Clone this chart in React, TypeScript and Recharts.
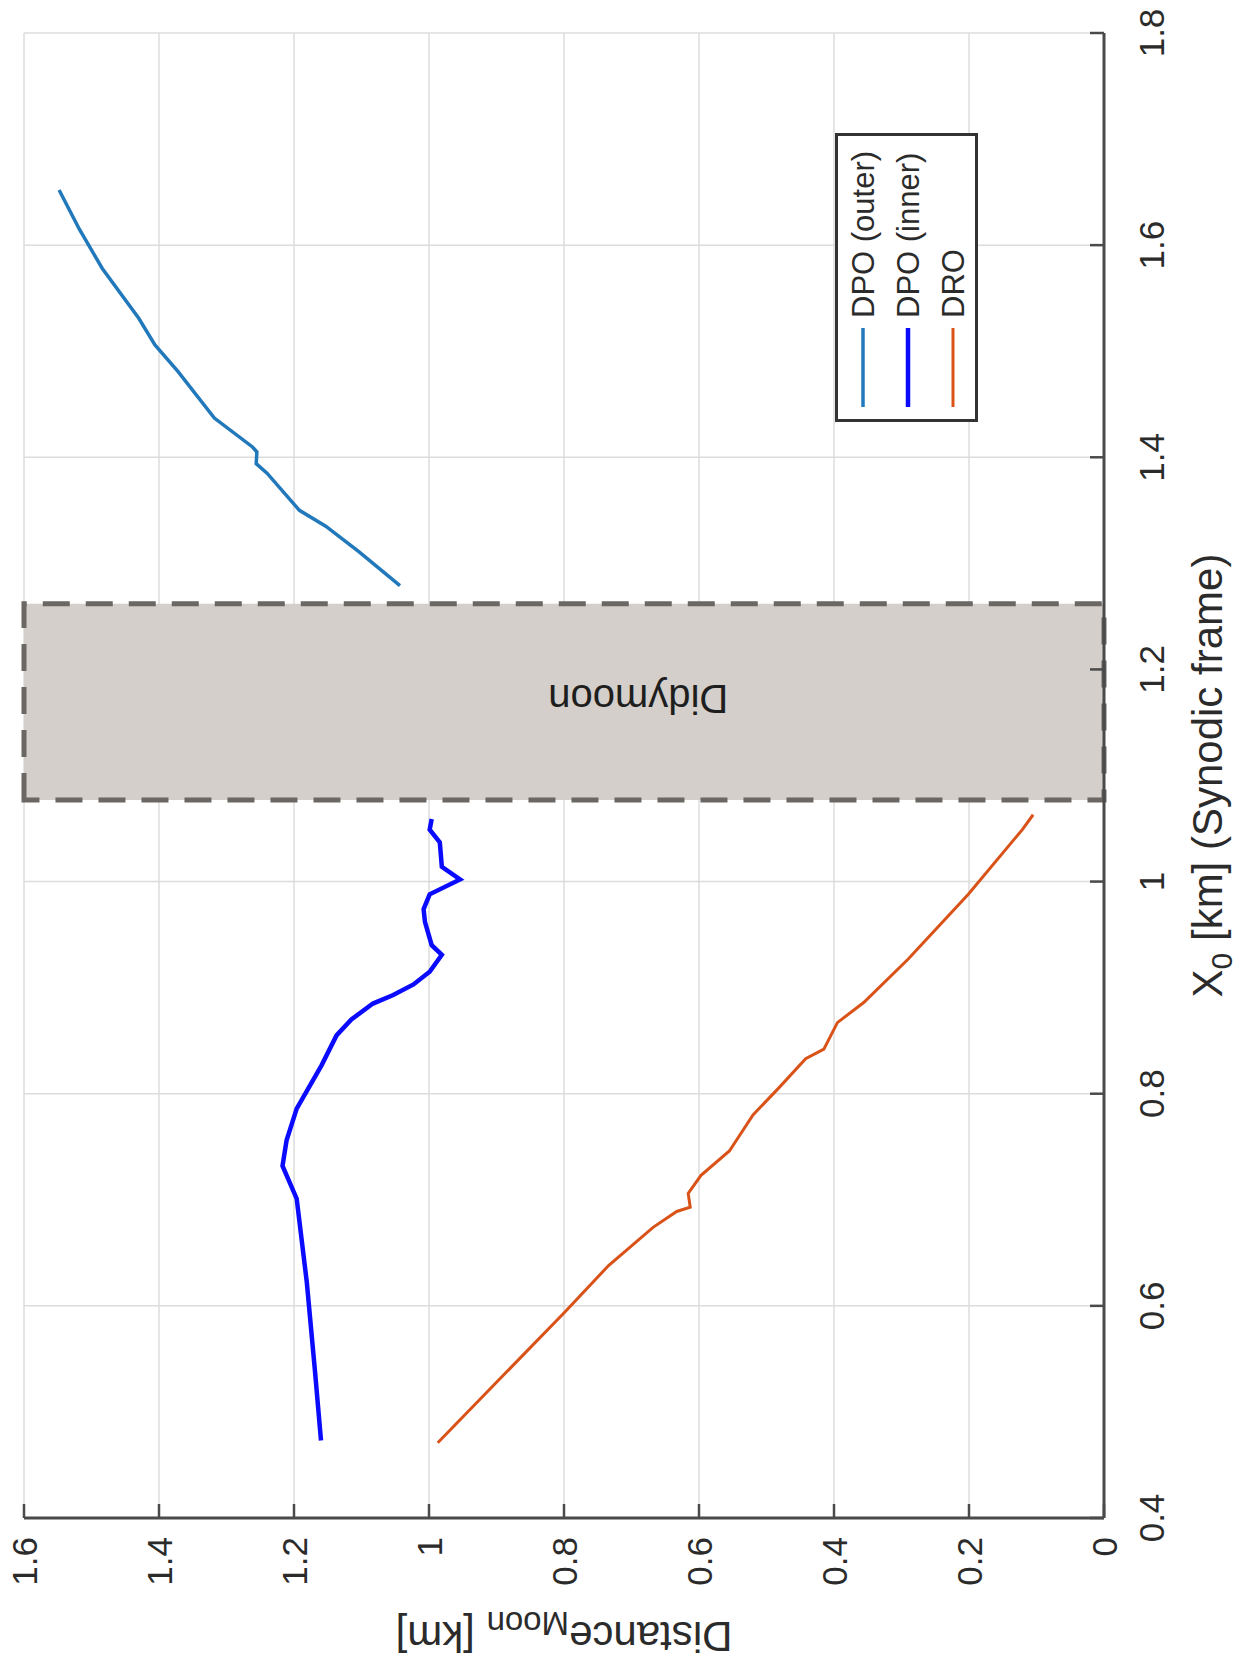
import React from 'react';
import { LineChart, Line, XAxis, YAxis, CartesianGrid, ReferenceArea, ReferenceDot, Legend } from 'recharts';

// the figure is drawn upright, then the whole thing is turned a quarter turn to the left
const xTicks = [0.4, 0.6, 0.8, 1, 1.2, 1.4, 1.6, 1.8];
const yTicks = [0, 0.2, 0.4, 0.6, 0.8, 1, 1.2, 1.4, 1.6];

const seriesNames = ['DPO (outer)', 'DPO (inner)', 'DRO'];

const dpoOuterX = [1.279, 1.311, 1.335, 1.350, 1.385, 1.394, 1.405, 1.410, 1.437, 1.481, 1.506, 1.531, 1.578, 1.615, 1.652];
const dpoOuterY = [1.043, 1.104, 1.153, 1.192, 1.240, 1.256, 1.255, 1.262, 1.318, 1.372, 1.406, 1.430, 1.484, 1.518, 1.548];

const dpoInnerX = [0.473, 0.539, 0.622, 0.701, 0.732, 0.756, 0.786, 0.827, 0.855, 0.870, 0.885, 0.893, 0.903, 0.915, 0.931, 0.940, 0.962, 0.974, 0.988, 1.002, 1.014, 1.037, 1.049, 1.059];
const dpoInnerY = [1.160, 1.169, 1.181, 1.196, 1.217, 1.211, 1.196, 1.159, 1.137, 1.115, 1.083, 1.053, 1.023, 0.999, 0.981, 0.996, 1.006, 1.008, 0.999, 0.954, 0.981, 0.984, 0.999, 0.996];

const droX = [0.471, 0.594, 0.638, 0.674, 0.689, 0.693, 0.706, 0.723, 0.746, 0.780, 0.806, 0.833, 0.842, 0.867, 0.886, 0.927, 0.988, 1.049, 1.063];
const droY = [0.987, 0.799, 0.734, 0.668, 0.633, 0.613, 0.616, 0.597, 0.555, 0.520, 0.481, 0.442, 0.415, 0.395, 0.356, 0.290, 0.201, 0.121, 0.105];

const didymoonX = [1.077, 1.262];
const didymoonLabelX = 1.172;
const didymoonLabelY = 0.69;

const toPoints = (xs: number[], ys: number[]) => xs.map((x, i) => ({ x, y: ys[i] }));

const FONT = '"Liberation Sans", Arial, Helvetica, sans-serif';
const FRAME = '#4a4a4a';
const TEXT = '#2b2b2b';
const colors = ['#2178ba', '#0a0aff', '#d95319'];
const widths = [3.5, 4.5, 3];

const W = 1675;
const H = 1248;

const BottomTick = (props: any) => {
  const { x, y, payload } = props;
  return (
    <g>
      <line x1={x} y1={y} x2={x} y2={y - 14} stroke={FRAME} strokeWidth={2.5} />
      <text x={x} y={y + 47} dy="0.36em" textAnchor="middle" fontSize={35} fill={TEXT} fontFamily={FONT}>
        {payload.value}
      </text>
    </g>
  );
};

const TopTick = (props: any) => {
  const { x, y } = props;
  return <line x1={x} y1={y} x2={x} y2={y + 14} stroke={FRAME} strokeWidth={2.5} />;
};

const LeftTick = (props: any) => {
  const { x, y, payload } = props;
  return (
    <g>
      <line x1={x} y1={y} x2={x + 14} y2={y} stroke={FRAME} strokeWidth={2.5} />
      <text x={x - 19} y={y} dy="0.36em" textAnchor="end" fontSize={35} fill={TEXT} fontFamily={FONT}>
        {payload.value}
      </text>
    </g>
  );
};

const RightTick = (props: any) => {
  const { x, y } = props;
  return <line x1={x} y1={y} x2={x - 14} y2={y} stroke={FRAME} strokeWidth={2.5} />;
};

const XTitle = (props: any) => {
  const vb = props.viewBox || { x: 157, y: 1104, width: 1485, height: 144 };
  const cx = vb.x + vb.width / 2;
  const cy = vb.y + 103;
  return (
    <text x={cx} y={cy} dy="0.36em" textAnchor="middle" fontSize={42} fill={TEXT} fontFamily={FONT}>
      <tspan>X</tspan>
      <tspan dy={10} fontSize={30}>0</tspan>
      <tspan dy={-10}> [km] (Synodic frame)</tspan>
    </text>
  );
};

const YTitle = (props: any) => {
  const vb = props.viewBox || { x: 0, y: 24, width: 157, height: 1080 };
  const cx = vb.x + 38;
  const cy = vb.y + vb.height / 2;
  return (
    <text x={cx} y={cy} dy="0.36em" textAnchor="middle" fontSize={42} fill={TEXT} fontFamily={FONT}
      transform={`rotate(-90 ${cx} ${cy})`}>
      <tspan>Distance</tspan>
      <tspan dy={10} fontSize={33}>Moon</tspan>
      <tspan dy={-10}> [km]</tspan>
    </text>
  );
};

const DidymoonText = (props: any) => {
  const vb = props.viewBox || { x: 0, y: 0 };
  const cx = vb.x + (vb.width || 0) / 2;
  const cy = vb.y + (vb.height || 0) / 2;
  return (
    <text x={cx} y={cy} dy="0.36em" textAnchor="middle" fontSize={40} fill="#1e1e1e" fontFamily={FONT}
      transform={`rotate(-90 ${cx} ${cy})`}>
      Didymoon
    </text>
  );
};

const LegendBox = (props: any) => {
  const payload: any[] = props.payload || [];
  const items = seriesNames.map((n) => payload.find((p) => p.value === n)).filter(Boolean);
  return (
    <svg width={289} height={143} style={{ display: 'block' }}>
      <rect x={1.5} y={1.5} width={286} height={140} fill="#fff" stroke="#333" strokeWidth={3} />
      {items.map((it: any, i: number) => {
        const cy = 28 + i * 45;
        return (
          <g key={it.value}>
            <line x1={15} x2={94} y1={cy} y2={cy} stroke={it.color} strokeWidth={widths[i]} />
            <text x={104} y={cy} dy="0.36em" fontSize={31} fill={TEXT} fontFamily={FONT}>
              {it.value}
            </text>
          </g>
        );
      })}
    </svg>
  );
};

export default function App() {
  return (
    <div style={{ position: 'absolute', left: 0, top: 0, width: 1248, height: 1675, overflow: 'hidden', background: '#fff' }}>
      <div style={{ width: W, height: H, transformOrigin: '0 0', transform: 'translateY(1675px) rotate(-90deg)' }}>
        <LineChart width={W} height={H} margin={{ top: 24, right: 33, bottom: 0, left: 0 }}>
          <CartesianGrid stroke="#dcdcdc" strokeWidth={1.5} />
          <ReferenceArea
            x1={didymoonX[0]}
            x2={didymoonX[1]}
            y1={yTicks[0]}
            y2={yTicks[yTicks.length - 1]}
            fill="#d4cfca"
            fillOpacity={1}
            stroke="#6b6763"
            strokeWidth={5}
            strokeDasharray="27 16"
            ifOverflow="visible"
          />
          <ReferenceDot x={didymoonLabelX} y={didymoonLabelY} r={0} fill="none" stroke="none" label={DidymoonText} ifOverflow="visible" />
          <Line data={toPoints(dpoOuterX, dpoOuterY)} dataKey="y" name={seriesNames[0]} type="linear"
            stroke={colors[0]} strokeWidth={widths[0]} dot={false} isAnimationActive={false} />
          <Line data={toPoints(dpoInnerX, dpoInnerY)} dataKey="y" name={seriesNames[1]} type="linear"
            stroke={colors[1]} strokeWidth={widths[1]} dot={false} isAnimationActive={false} />
          <Line data={toPoints(droX, droY)} dataKey="y" name={seriesNames[2]} type="linear"
            stroke={colors[2]} strokeWidth={widths[2]} dot={false} isAnimationActive={false} />
          <XAxis type="number" dataKey="x" domain={[0.4, 1.8]} ticks={xTicks} interval={0} allowDataOverflow
            height={144} tickSize={0} tickMargin={0} tickLine={false}
            axisLine={{ stroke: FRAME, strokeWidth: 3 }} tick={BottomTick} label={XTitle} />
          <XAxis xAxisId="top" orientation="top" type="number" dataKey="x" domain={[0.4, 1.8]} ticks={xTicks} interval={0}
            allowDataOverflow height={0} tickSize={0} tickMargin={0} tickLine={false}
            axisLine={{ stroke: FRAME, strokeWidth: 3 }} tick={TopTick} />
          <YAxis type="number" domain={[0, 1.6]} ticks={yTicks} interval={0} allowDataOverflow
            width={157} tickSize={0} tickMargin={0} tickLine={false}
            axisLine={{ stroke: FRAME, strokeWidth: 3 }} tick={LeftTick} label={YTitle} />
          <YAxis yAxisId="right" orientation="right" type="number" domain={[0, 1.6]} ticks={yTicks} interval={0}
            allowDataOverflow width={0} tickSize={0} tickMargin={0} tickLine={false}
            axisLine={{ stroke: FRAME, strokeWidth: 3 }} tick={RightTick} />
          <Legend layout="horizontal" verticalAlign="middle" align="center" content={LegendBox}
            wrapperStyle={{ left: 1253, top: 835, width: 289, height: 143 }} />
        </LineChart>
      </div>
    </div>
  );
}
